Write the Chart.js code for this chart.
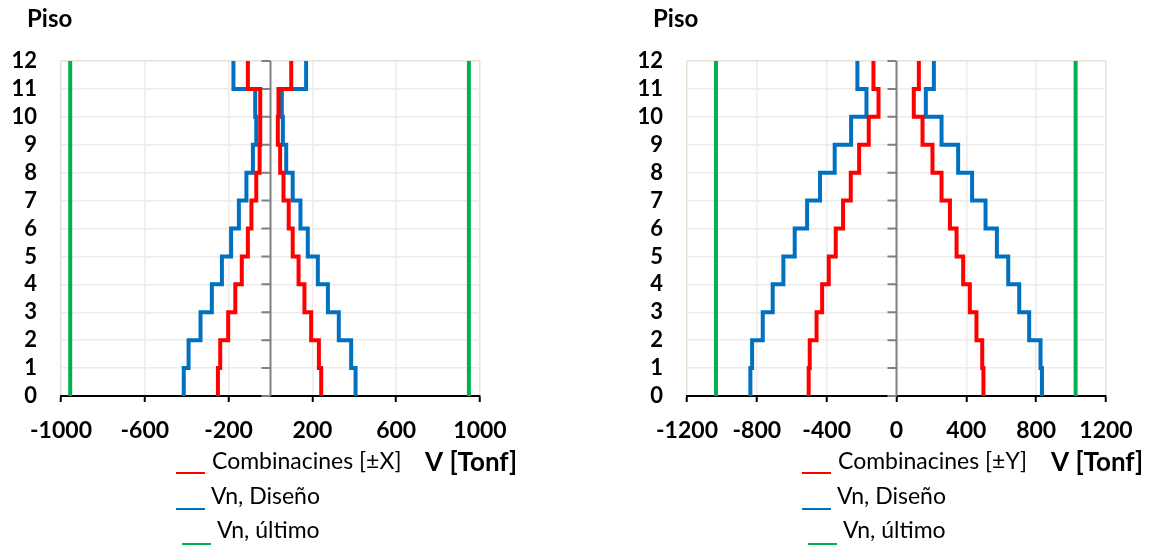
<!DOCTYPE html>
<html>
<head>
<meta charset="utf-8">
<title>Cortante por piso</title>
<script src="https://cdn.jsdelivr.net/npm/chart.js@4.4.1/dist/chart.umd.min.js"></script>
<style>
  html, body { margin: 0; padding: 0; background: #fff; }
  body { width: 1159px; height: 546px; position: relative; overflow: hidden; }
  canvas { position: absolute; top: 0; }
  #chartX { left: 0; }
  #chartY { left: 626px; }
</style>
</head>
<body>
<canvas id="chartX" width="533" height="546"></canvas>
<canvas id="chartY" width="533" height="546"></canvas>
<script>
// Pisos (eje vertical)
const floors = [0, 1, 2, 3, 4, 5, 6, 7, 8, 9, 10, 11, 12];

// Direccion X - cortante de cada piso (1..12) en Tonf
const combXPos = [242, 231, 194, 162, 134, 106, 87, 62, 46, 35, 38, 99];
const combXNeg = [-251, -240, -202, -168, -137, -108, -91, -68, -52, -49, -49, -108];
const disenoXPos = [406, 385, 326, 274, 226, 178, 143, 106, 75, 59, 54, 170];
const disenoXNeg = [-414, -391, -334, -280, -232, -188, -151, -115, -84, -68, -73, -177];
const ultimoX = [-956, 947];
const ticksX = [-1000, -600, -200, 200, 600, 1000];
const labelsX = ['Combinacines [±X]', 'Vn, Diseño', 'Vn, último'];

// Direccion Y
const combYPos = [498, 491, 458, 420, 382, 344, 306, 258, 206, 149, 99, 128];
const combYNeg = [-503, -497, -458, -426, -388, -348, -306, -262, -214, -159, -103, -132];
const disenoYPos = [833, 825, 760, 703, 640, 575, 510, 433, 353, 258, 168, 214];
const disenoYNeg = [-837, -827, -766, -709, -648, -583, -512, -438, -354, -260, -172, -224];
const ultimoY = [-1034, 1026];
const ticksY = [-1200, -800, -400, 0, 400, 800, 1200];
const labelsY = ['Combinacines [±Y]', 'Vn, Diseño', 'Vn, último'];

const FONT = "Lato, 'Open Sans', sans-serif";
const RED = '#ff0000', BLUE = '#0070c0', GREEN = '#00b050';
const GRID = '#ececec', EDGE = '#e6e2d6';

// step line: each story value held from floor i to floor i+1
function stepPoints(values) {
  const pts = values.map((v, i) => ({ x: v, y: floors[i] }));
  pts.push({ x: values[values.length - 1], y: floors[floors.length - 1] });
  return pts;
}
function vertical(v) {
  return [{ x: v, y: floors[0] }, { x: v, y: floors[floors.length - 1] }];
}

function lineSet(label, color, data, legend) {
  return {
    label, data, legend,
    borderColor: color, backgroundColor: color,
    borderWidth: 4, pointRadius: 0, stepped: 'after', fill: false, tension: 0
  };
}

// gray axis through zero with small ticks at each floor
const zeroAxis = {
  id: 'zeroAxis',
  beforeDatasetsDraw(chart) {
    const { ctx, chartArea, scales: { x, y } } = chart;
    const px = x.getPixelForValue(0);
    ctx.save();
    ctx.strokeStyle = '#808080';
    ctx.lineWidth = 2;
    ctx.beginPath();
    ctx.moveTo(px, chartArea.top);
    ctx.lineTo(px, chartArea.bottom);
    floors.forEach(f => {
      const py = y.getPixelForValue(f);
      ctx.moveTo(px - 9, py);
      ctx.lineTo(px, py);
    });
    ctx.stroke();
    ctx.restore();
  }
};

// "Piso" title, unit label and the underscore-style legend
const extraText = {
  id: 'extraText',
  afterDraw(chart) {
    const { ctx } = chart;
    ctx.save();
    ctx.fillStyle = '#000';
    ctx.textBaseline = 'middle';
    ctx.textAlign = 'left';
    ctx.font = 'bold 24px ' + FONT;
    ctx.fillText('Piso', 27, 19);
    ctx.font = 'bold 26px ' + FONT;
    ctx.fillText('V [Tonf]', 425, 463);

    const rows = [
      { mx: 176, my: 473, tx: 212, ty: 462 },
      { mx: 176, my: 509, tx: 211, ty: 497 },
      { mx: 182, my: 544, tx: 217, ty: 531 }
    ];
    const items = chart.data.datasets.filter(d => d.legend);
    ctx.font = '23px ' + FONT;
    items.forEach((d, i) => {
      const r = rows[i];
      ctx.strokeStyle = d.borderColor;
      ctx.lineWidth = 2;
      ctx.beginPath();
      ctx.moveTo(r.mx, r.my);
      ctx.lineTo(r.mx + 29, r.my);
      ctx.stroke();
      ctx.fillStyle = '#000';
      ctx.fillText(d.label, r.tx, r.ty);
    });
    ctx.restore();
  }
};

function makeChart(id, labels, comb, diseno, ultimo, ticks) {
  const n = ticks.length;
  return new Chart(document.getElementById(id), {
    type: 'line',
    data: {
      datasets: [
        lineSet(labels[0], RED, stepPoints(comb[0]), true),
        lineSet(labels[0], RED, stepPoints(comb[1]), false),
        lineSet(labels[1], BLUE, stepPoints(diseno[0]), true),
        lineSet(labels[1], BLUE, stepPoints(diseno[1]), false),
        lineSet(labels[2], GREEN, vertical(ultimo[0]), true),
        lineSet(labels[2], GREEN, vertical(ultimo[1]), false)
      ]
    },
    options: {
      responsive: false,
      animation: false,
      layout: { padding: { left: 0, right: 53, top: 61, bottom: 100 } },
      plugins: { legend: { display: false }, tooltip: { enabled: false } },
      scales: {
        x: {
          type: 'linear',
          min: ticks[0],
          max: ticks[n - 1],
          ticks: {
            stepSize: ticks[1] - ticks[0],
            color: '#000',
            padding: 15,
            maxRotation: 0,
            autoSkip: false,
            font: { family: FONT, size: 23, weight: 'bold' },
            callback: v => String(v)
          },
          grid: {
            color: c => (c.index === 0 || c.index === n - 1) ? EDGE : GRID,
            lineWidth: 1.5,
            drawTicks: true,
            tickLength: 6,
            tickColor: '#000',
            tickWidth: 2
          },
          border: { color: '#000', width: 2 },
          afterFit: s => { s.height = 50; }
        },
        y: {
          type: 'linear',
          min: floors[0],
          max: floors[floors.length - 1],
          ticks: {
            stepSize: 1,
            color: '#000',
            padding: 24,
            autoSkip: false,
            font: { family: FONT, size: 22, weight: 'bold' },
            callback: v => String(v)
          },
          grid: {
            color: c => c.index === floors.length - 1 ? EDGE : GRID,
            lineWidth: 1.5,
            drawTicks: false
          },
          border: { display: false },
          afterFit: s => { s.width = 61; }
        }
      }
    },
    plugins: [zeroAxis, extraText]
  });
}

makeChart('chartX', labelsX, [combXPos, combXNeg], [disenoXPos, disenoXNeg], ultimoX, ticksX);
makeChart('chartY', labelsY, [combYPos, combYNeg], [disenoYPos, disenoYNeg], ultimoY, ticksY);
</script>
</body>
</html>
